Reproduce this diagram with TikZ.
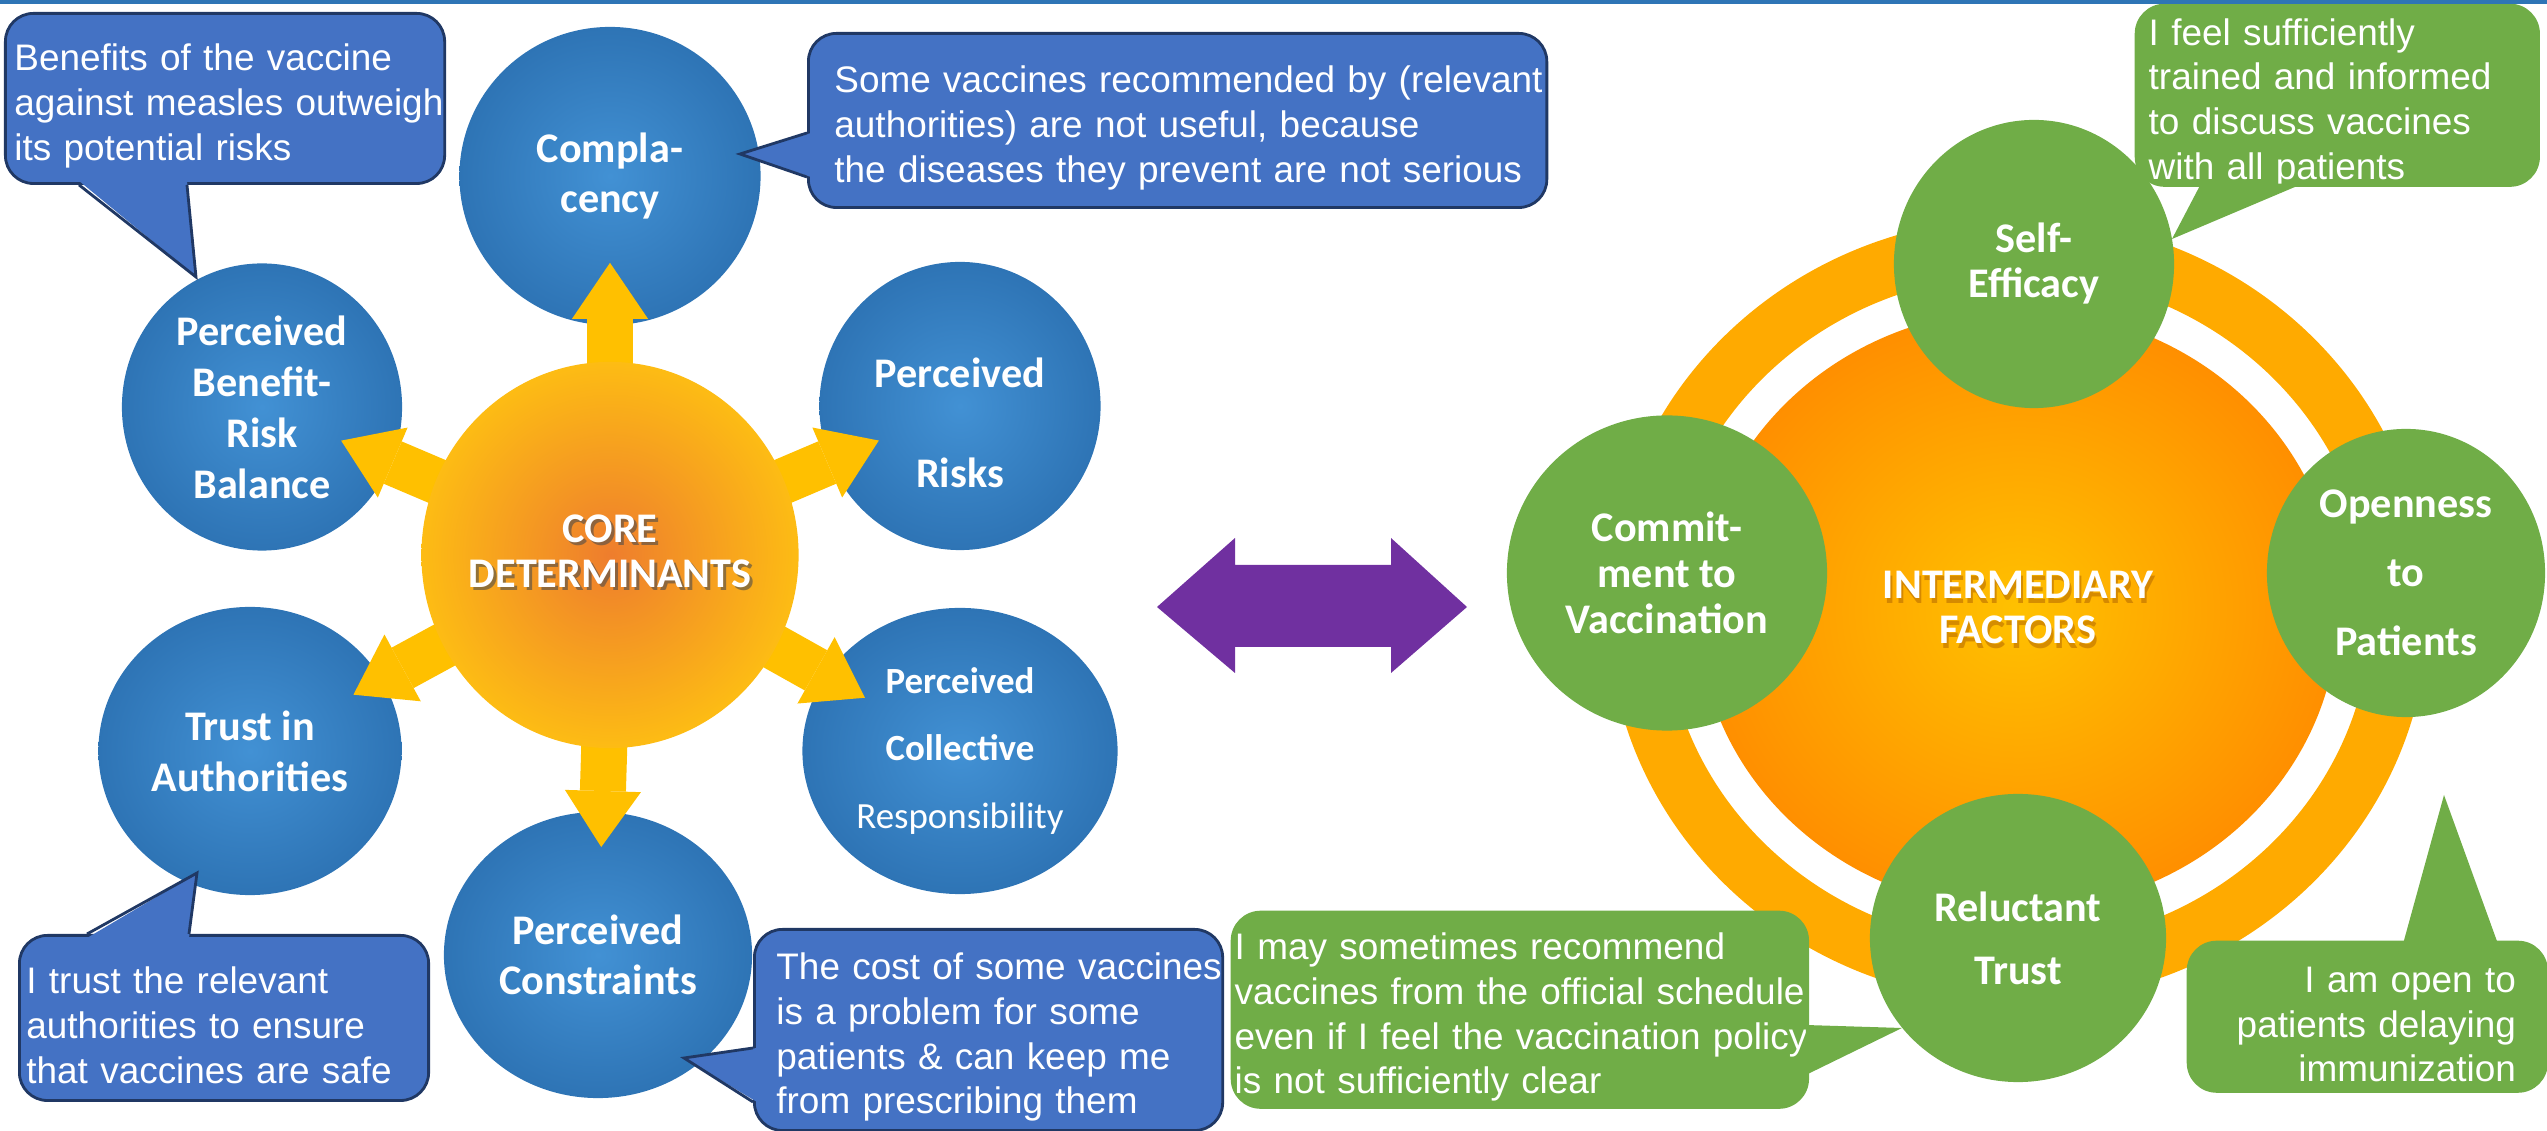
\documentclass[tikz,border=0pt]{standalone}
\usepackage{fontspec}
\setmainfont{Liberation Sans}
\newfontfamily\calib{Carlito}
\usepackage{xcolor}
\usepackage{tikz}
\usetikzlibrary{shapes.geometric,calc,arrows.meta}

\definecolor{callblue}{RGB}{68,114,196}
\definecolor{calledge}{RGB}{32,56,100}
\definecolor{bubin}{RGB}{66,145,212}
\definecolor{bubout}{RGB}{46,116,181}
\definecolor{leafgreen}{RGB}{112,173,71}
\definecolor{coreorange}{RGB}{238,125,45}
\definecolor{coreyellow}{RGB}{253,188,20}
\definecolor{arrowyellow}{RGB}{255,192,0}
\definecolor{ringorange}{RGB}{255,170,0}
\definecolor{hubyellow}{RGB}{255,193,0}
\definecolor{huborange}{RGB}{255,143,0}
\definecolor{linkpurple}{RGB}{112,48,160}
\definecolor{topblue}{RGB}{46,117,182}

\begin{document}
\begin{tikzpicture}[x=0.01cm, y=-0.01cm,
    bub/.style={ellipse, inner sep=0pt, text=white, align=center,
        font=\calib\bfseries\fontsize{12}{14}\selectfont},
    bluebub/.style={bub, shade, shading=radial, inner color=bubin, outer color=bubout},
    greenbub/.style={bub, fill=leafgreen},
    callbox/.style={rectangle, anchor=north west, inner ysep=0pt, text=white,
        font=\fontsize{10.5}{12.7}\selectfont, align=left,
        execute at begin node={\rule{0pt}{11.8pt}}},
    bluecall/.style={callbox, rounded corners=0.28cm, fill=callblue, draw=calledge, line width=0.8pt},
    greencall/.style={callbox, rounded corners=0.3cm, fill=leafgreen},
    coreshaft/.style={line width=0.46cm, draw=arrowyellow,
        -{Triangle[width=0.76cm,length=0.56cm,line width=0pt]}},
    headtext/.style={text=white, align=center, font=\calib\bfseries\fontsize{12}{12.8}\selectfont},
]
\useasboundingbox (0,0) rectangle (2547,1131);

% Core determinants
\node[bluebub, minimum width=3.01cm, minimum height=2.98cm] (compl) at (610,176) {Compla-\\cency};
\node[bluebub, minimum width=2.80cm, minimum height=2.87cm, font=\calib\bfseries\fontsize{12}{14.5}\selectfont] (benefit) at (262,407) {Perceived\\Benefit-\\Risk\\Balance};
\node[bluebub, minimum width=2.81cm, minimum height=2.88cm, font=\calib\bfseries\fontsize{12}{28.7}\selectfont] (risks) at (960,406) {\rule{0pt}{18pt}Perceived\\Risks};
\node[bluebub, minimum width=3.03cm, minimum height=2.88cm, font=\calib\bfseries\fontsize{12}{14.5}\selectfont] (trust) at (250,751) {Trust in\\Authorities};
\node[bluebub, minimum width=3.15cm, minimum height=2.86cm, font=\calib\fontsize{10.5}{19.3}\selectfont] (collect) at (960,751) {\textbf{Perceived}\\\textbf{Collective}\\Responsibility};
\node[bluebub, minimum width=3.08cm, minimum height=2.86cm, font=\calib\bfseries\fontsize{12}{14.2}\selectfont] (constr) at (598,955) {Perceived\\Constraints};
%
\node[bluecall, minimum width=4.39cm, minimum height=1.70cm, inner xsep=0.09cm, text width=4.21cm] (cbBenefit) at (4,12)
    {\mbox{Benefits of the vaccine}\\\mbox{against measles outweigh}\\\mbox{its potential risks}};
\node[bluecall, minimum width=7.38cm, minimum height=1.74cm, inner xsep=0.26cm, text width=6.86cm] (cbCompl) at (807,32)
    {\mbox{Some vaccines recommended by (relevant}\\\mbox{authorities) are not useful, because}\\\mbox{the diseases they prevent are not serious}};
\node[bluecall, minimum width=4.09cm, minimum height=1.65cm, inner xsep=0.07cm, text width=3.95cm] (cbTrust) at (18,934)
    {\mbox{I trust the relevant}\\\mbox{authorities to ensure}\\\mbox{that vaccines are safe}};
\node[bluecall, minimum width=4.68cm, minimum height=2.01cm, inner xsep=0.22cm, text width=4.24cm] (cbConstr) at (753,928)
    {\mbox{The cost of some vaccines}\\\mbox{is a problem for some}\\\mbox{patients \& can keep me}\\\mbox{from prescribing them}};
%
\coordinate (tipBenefit) at (196,277);
\coordinate (tipCompl) at (740,154);
\coordinate (tipTrust) at (197,873);
\coordinate (tipConstr) at (684,1058);
\fill[callblue] ($(cbBenefit.south west)+(75,-4)$) -- (tipBenefit) -- ($(cbBenefit.south west)+(183,-4)$) -- cycle;
\draw[calledge, line width=0.8pt] ($(cbBenefit.south west)+(75,0)$) -- (tipBenefit) -- ($(cbBenefit.south west)+(183,0)$);
\fill[callblue] ($(cbCompl.north west)+(4,101)$) -- (tipCompl) -- ($(cbCompl.north west)+(4,145)$) -- cycle;
\draw[calledge, line width=0.8pt] ($(cbCompl.north west)+(0,101)$) -- (tipCompl) -- ($(cbCompl.north west)+(0,145)$);
\fill[callblue] ($(cbTrust.north west)+(69,4)$) -- (tipTrust) -- ($(cbTrust.north west)+(171,4)$) -- cycle;
\draw[calledge, line width=0.8pt] ($(cbTrust.north west)+(69,0)$) -- (tipTrust) -- ($(cbTrust.north west)+(171,0)$);
\fill[callblue] ($(cbConstr.north west)+(4,120)$) -- (tipConstr) -- ($(cbConstr.north west)+(4,174)$) -- cycle;
\draw[calledge, line width=0.8pt] ($(cbConstr.north west)+(0,120)$) -- (tipConstr) -- ($(cbConstr.north west)+(0,174)$);
%
\coordinate (coremid) at (610,555);
\foreach \sat in {compl,benefit,risks,trust,collect,constr}
    \draw[coreshaft] (coremid) -- ($(coremid)!2.92cm!(\sat.center)$);
\node[ellipse, minimum width=3.77cm, minimum height=3.86cm, shade, shading=radial,
    inner color=coreorange, outer color=coreyellow] (core) at (coremid) {};
\node[headtext, text=black!70, opacity=0.6] at ($(core)+(3,-1)$) {CORE\\DETERMINANTS};
\node[headtext] (corelabel) at ($(core)+(0,-4)$) {CORE\\DETERMINANTS};

% Link between the two groups
\fill[linkpurple] (1157,607) -- (1235,538) -- (1235,565) -- (1391,565) -- (1391,538) -- (1467,607)
    -- (1391,673) -- (1391,647) -- (1235,647) -- (1235,673) -- cycle;

% Intermediary factors
\coordinate (hubmid) at (2018,610);
\fill[ringorange, even odd rule] (hubmid) ellipse [x radius=4.10cm, y radius=3.92cm]
    (hubmid) ellipse [x radius=3.53cm, y radius=3.35cm];
\node[ellipse, minimum width=6.40cm, minimum height=6.00cm, shade, shading=radial,
    inner color=hubyellow, outer color=huborange] (hub) at (hubmid) {};
\node[greenbub, minimum width=2.80cm, minimum height=2.88cm, font=\calib\bfseries\fontsize{12}{12.8}\selectfont] (self) at (2034,264) {Self-\\Efficacy};
\node[greenbub, minimum width=3.20cm, minimum height=3.15cm, font=\calib\bfseries\fontsize{12}{13.1}\selectfont] (commit) at (1667,573) {Commit-\\ment to\\Vaccination};
\node[greenbub, minimum width=2.78cm, minimum height=2.88cm, font=\calib\bfseries\fontsize{12}{19.6}\selectfont] (open) at (2406,573) {Openness\\to\\Patients};
\node[greenbub, minimum width=2.96cm, minimum height=2.88cm, font=\calib\bfseries\fontsize{12}{17.9}\selectfont] (relu) at (2018,938) {Reluctant\\Trust};
\node[headtext, text={rgb,255:red,185;green,110;blue,0}, opacity=0.6] at ($(hub)+(2,2)$) {INTERMEDIARY\\FACTORS};
\node[headtext] (hublabel) at ($(hub)+(0,-3)$) {INTERMEDIARY\\FACTORS};
%
\node[greencall, minimum width=4.05cm, minimum height=1.82cm, inner xsep=0.14cm, text width=3.77cm] (cgSelf) at (2134,3)
    {\mbox{I feel sufficiently}\\\mbox{trained and informed}\\\mbox{to discuss vaccines}\\\mbox{with all patients}};
\node[greencall, minimum width=5.78cm, minimum height=1.98cm, inner xsep=0.04cm, text width=5.70cm] (cgRelu) at (1230,910)
    {\mbox{I may sometimes recommend}\\\mbox{vaccines from the official schedule}\\\mbox{even if I feel the vaccination policy}\\\mbox{is not sufficiently clear}};
\node[greencall, minimum width=3.61cm, minimum height=1.52cm, inner xsep=0.32cm, text width=2.97cm, align=right] (cgOpen) at (2186,940)
    {\mbox{I am open to}\\\mbox{patients delaying}\\\mbox{immunization}};
%
\coordinate (tipSelf) at (2172,239);
\coordinate (tipRelu) at (1902,1028);
\coordinate (tipOpen) at (2444,795);
\fill[leafgreen] ($(cgSelf.south west)+(67,-4)$) -- (tipSelf) -- ($(cgSelf.south west)+(169,-4)$) -- cycle;
\fill[leafgreen] ($(cgRelu.north east)+(-4,115)$) -- (tipRelu) -- ($(cgRelu.north east)+(-4,165)$) -- cycle;
\fill[leafgreen] ($(cgOpen.north west)+(217,4)$) -- (tipOpen) -- ($(cgOpen.north west)+(312,4)$) -- cycle;

% Top rule
\fill[topblue] (0,0) rectangle (2547,4);
\end{tikzpicture}
\end{document}
